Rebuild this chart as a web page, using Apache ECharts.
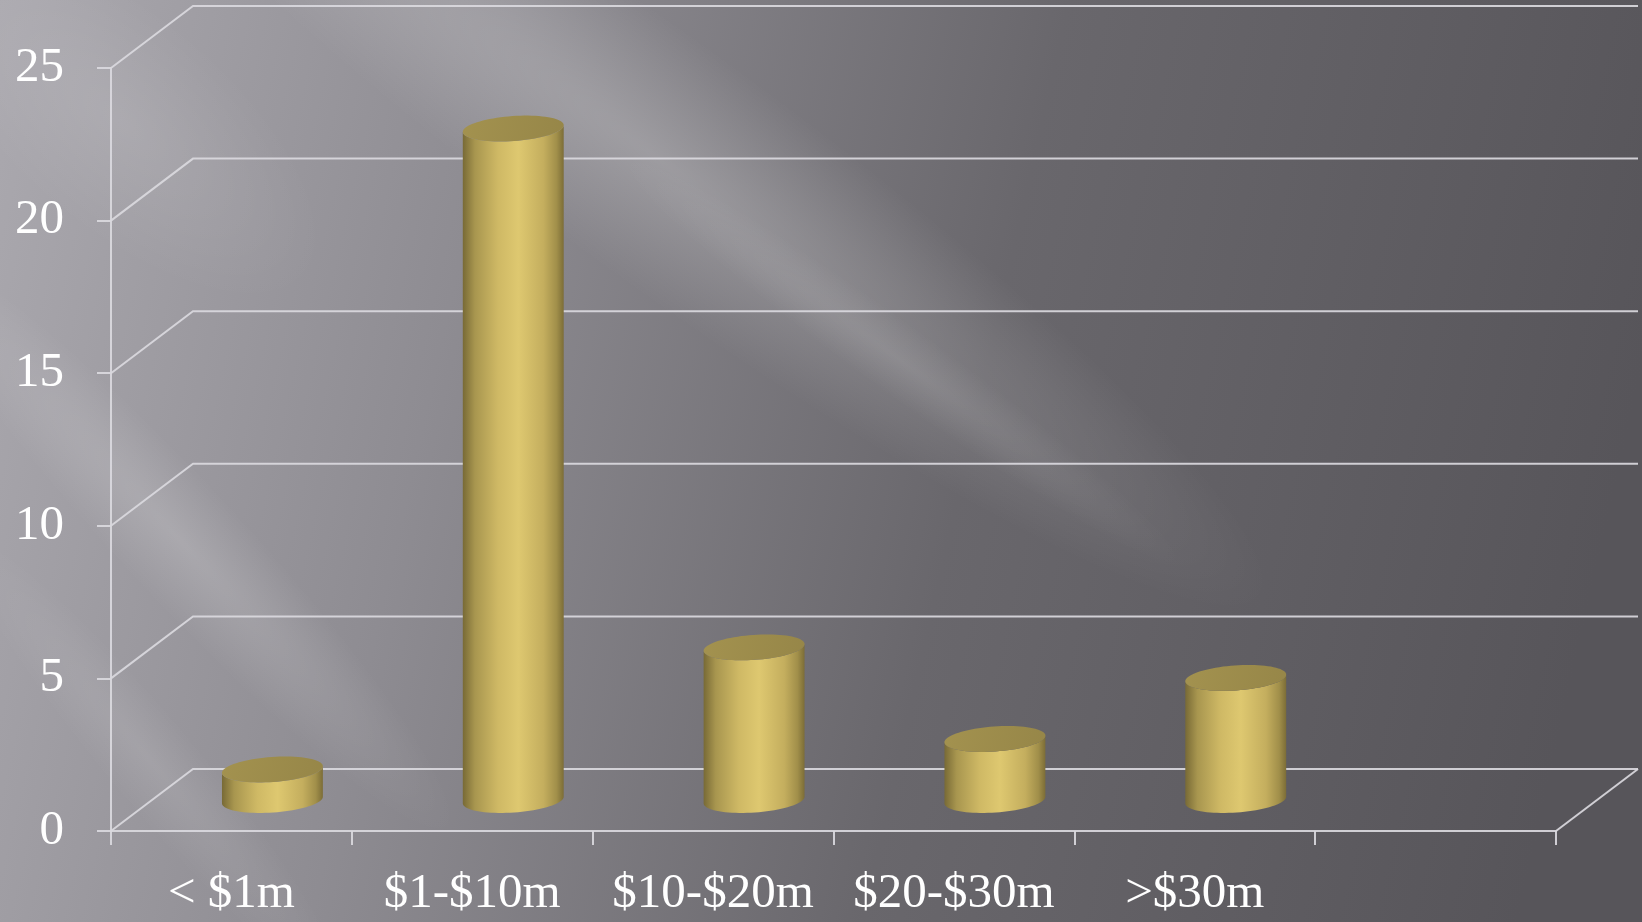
<!DOCTYPE html>
<html>
<head>
<meta charset="utf-8">
<script src="https://cdn.jsdelivr.net/npm/echarts@6/dist/echarts.min.js"></script>
<style>
  html, body { margin: 0; padding: 0; background: #6e6c72; }
  #chart { width: 1642px; height: 922px; }
</style>
</head>
<body>
<div id="chart"></div>
<script>
// Funding bands and number of companies in each band
const categories = ['< $1m', '$1-$10m', '$10-$20m', '$20-$30m', '>$30m', ''];
const counts = [1, 22, 5, 2, 4];
const valueTicks = [0, 5, 10, 15, 20, 25];

// 3D look: depth offset of the back wall, in pixels
const DX = 82;
const DY = -62;
const LINE = 'rgba(218, 217, 222, 0.92)';
const FONT = '"Liberation Serif", "DejaVu Serif", serif';

const chart = echarts.init(document.getElementById('chart'), null, { renderer: 'canvas' });

// point on a tilted ellipse
function ellipsePoint(cx, cy, a, b, tilt, t) {
  const c = Math.cos(tilt), s = Math.sin(tilt);
  const ex = a * Math.cos(t), ey = b * Math.sin(t);
  return [cx + ex * c - ey * s, cy + ex * s + ey * c];
}
function arc(cx, cy, a, b, tilt, t0, t1, n) {
  const pts = [];
  for (let k = 0; k <= n; k++) pts.push(ellipsePoint(cx, cy, a, b, tilt, t0 + (t1 - t0) * k / n));
  return pts;
}

// back wall, side wall and floor lines for each value tick
function renderWall(params, api) {
  const v = api.value(1);
  const cs = params.coordSys;
  const y = api.coord([0, v])[1];
  const left = cs.x, right = cs.x + cs.width;
  const children = [{
    type: 'polyline',
    shape: { points: [[left, y], [left + DX, y + DY], [right + DX, y + DY]] },
    style: { stroke: LINE, lineWidth: 2, fill: null }
  }];
  if (v === 0) {
    children.push({
      type: 'line',
      shape: { x1: right, y1: y, x2: right + DX, y2: y + DY },
      style: { stroke: LINE, lineWidth: 2 }
    });
  }
  return { type: 'group', children };
}

// gold cylinder standing halfway into the depth
function renderCylinder(params, api) {
  const i = api.value(0), v = api.value(1);
  const topP = api.coord([i, v]);
  const baseP = api.coord([i, 0]);
  const bw = api.size([1, 0])[0] * 0.42;
  const a = bw / 2, b = 12.5, tilt = -0.07;
  const cx = topP[0] + DX / 2;
  const yt = topP[1] + DY / 2;
  const yb = baseP[1] + DY / 2;
  const bodyPts = arc(cx, yb, a, b, tilt, 0, Math.PI, 40)
    .concat(arc(cx, yt, a, b, tilt, Math.PI, 0, 40));
  return {
    type: 'group',
    children: [{
      type: 'polygon',
      shape: { points: bodyPts },
      style: {
        fill: {
          type: 'linear', x: 0, y: 0, x2: 1, y2: 0,
          colorStops: [
            { offset: 0, color: '#786a36' },
            { offset: 0.12, color: '#a8964f' },
            { offset: 0.35, color: '#cfb965' },
            { offset: 0.55, color: '#dec870' },
            { offset: 0.8, color: '#c4ae5e' },
            { offset: 0.93, color: '#a18f4a' },
            { offset: 1, color: '#7c6d37' }
          ]
        }
      }
    }, {
      type: 'polygon',
      shape: { points: arc(cx, yt, a, b, tilt, 0, Math.PI * 2, 80) },
      style: {
        fill: {
          type: 'linear', x: 0, y: 0, x2: 1, y2: 1,
          colorStops: [
            { offset: 0, color: '#a3924f' },
            { offset: 1, color: '#968648' }
          ]
        }
      }
    }]
  };
}

// soft light streak across the backdrop
function streak(x, y, len, wid, deg, alpha) {
  return {
    type: 'circle', silent: true, z: -90,
    shape: { cx: 0, cy: 0, r: 100 },
    x: x, y: y, scaleX: len / 200, scaleY: wid / 200,
    rotation: -deg * Math.PI / 180,
    style: {
      fill: {
        type: 'radial', x: 0.5, y: 0.5, r: 0.5,
        colorStops: [
          { offset: 0, color: 'rgba(255,255,255,' + alpha + ')' },
          { offset: 1, color: 'rgba(255,255,255,0)' }
        ]
      }
    }
  };
}

const option = {
  animation: false,
  graphic: [
    {
      type: 'rect', silent: true, z: -100,
      shape: { x: 0, y: 0, width: 1642, height: 922 },
      style: {
        fill: {
          type: 'linear', x: 0, y: 0, x2: 1, y2: 0.4,
          colorStops: [
            { offset: 0, color: '#aba9af' },
            { offset: 0.3, color: '#8e8c92' },
            { offset: 0.62, color: '#69676c' },
            { offset: 1, color: '#57555a' }
          ]
        }
      }
    },
    streak(660, 160, 1500, 240, 36, 0.22),
    streak(900, 360, 700, 70, 36, 0.1),
    streak(180, 540, 800, 120, 47, 0.16),
    streak(150, 760, 600, 90, 50, 0.1),
    streak(120, 120, 500, 220, 40, 0.1)
  ],
  grid: {
    left: 111, right: 86, top: 68, bottom: 91,
    containLabel: false, outerBoundsMode: 'none'
  },
  xAxis: {
    type: 'category',
    data: categories,
    boundaryGap: true,
    axisLine: { show: true, lineStyle: { color: LINE, width: 2 } },
    axisTick: { show: true, length: 14, alignWithLabel: false, lineStyle: { color: LINE, width: 2 } },
    axisLabel: {
      color: '#ffffff', fontFamily: FONT, fontSize: 49, lineHeight: 50,
      margin: 38, interval: 0
    },
    splitLine: { show: false }
  },
  yAxis: {
    type: 'value',
    min: 0, max: 25, interval: 5,
    axisLine: { show: true, lineStyle: { color: LINE, width: 2 } },
    axisTick: { show: true, length: 14, lineStyle: { color: LINE, width: 2 } },
    axisLabel: {
      color: '#ffffff', fontFamily: FONT, fontSize: 49, margin: 47,
      padding: [12, 0, 0, 0],
      formatter: function (v) { return valueTicks.indexOf(v) >= 0 ? String(v) : ''; }
    },
    splitLine: { show: false }
  },
  series: [
    {
      type: 'custom',
      name: 'walls',
      z: 1, silent: true, clip: false,
      renderItem: renderWall,
      data: valueTicks.map(v => [0, v])
    },
    {
      type: 'custom',
      name: 'companies',
      z: 3, clip: false,
      renderItem: renderCylinder,
      data: counts.map((c, i) => [i, c])
    }
  ]
};

chart.setOption(option);
</script>
</body>
</html>
